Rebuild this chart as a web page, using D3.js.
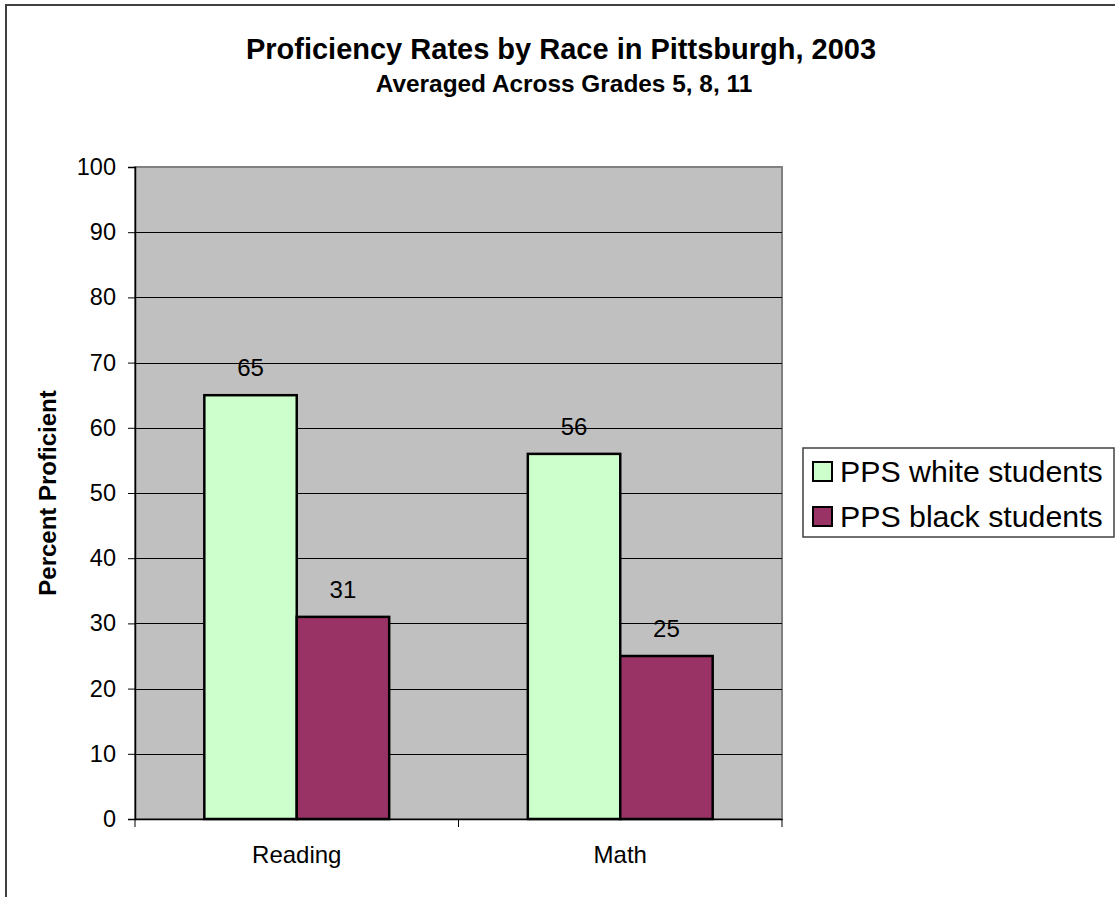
<!DOCTYPE html>
<html lang="en">
  <head>
    <meta charset="utf-8" />
    <title>Proficiency Rates by Race</title>
    <script type="text/javascript" src="https://d3js.org/d3.v7.min.js"></script>
    <style>
      body { margin: 0; background: #fff; }
      text { font-family: Arial, "Liberation Sans", sans-serif; fill: #000; }
    </style>
  </head>
  <body>
    <div id="chart"></div>
    <script type="text/javascript">
      /********************************
       * data
       ********************************/
      const categories = ["Reading", "Math"];
      const seriesNames = ["PPS white students", "PPS black students"];
      const whiteValues = [65, 56];
      const blackValues = [31, 25];
      const yTicks = [0, 10, 20, 30, 40, 50, 60, 70, 80, 90, 100];
      const colors = ["#CCFFCC", "#993366"];

      const width = 1115;
      const height = 897;

      const svg = d3
        .select("#chart")
        .append("svg")
        .attr("width", width)
        .attr("height", height);

      // outer chart border (cropped on right and bottom)
      svg.append("path")
        .attr("d", `M6,${height} V5 H${width}`)
        .attr("fill", "none")
        .attr("stroke", "#404040")
        .attr("stroke-width", 2);

      /***************************
       * scales
       **************************/
      const plot = { left: 135, right: 782, top: 167, bottom: 819 };

      const x = d3.scaleBand().domain(categories).range([plot.left, plot.right]);
      const y = d3.scaleLinear().domain([0, 100]).range([plot.bottom, plot.top]);
      // gap width 150% -> two bars + 1.5 bar widths per category
      const barW = x.bandwidth() / 3.5;
      const sub = d3.scaleBand().domain([0, 1]).range([0.75 * barW, 2.75 * barW]);

      // plot background
      svg.append("rect")
        .attr("x", plot.left)
        .attr("y", plot.top)
        .attr("width", plot.right - plot.left)
        .attr("height", plot.bottom - plot.top)
        .attr("fill", "#C0C0C0")
        .attr("stroke", "#808080")
        .attr("stroke-width", 2);

      // gridlines
      svg.append("g")
        .selectAll("line")
        .data(yTicks.filter((t) => t > 0 && t < 100))
        .enter()
        .append("line")
        .attr("x1", plot.left)
        .attr("x2", plot.right)
        .attr("y1", (d) => Math.round(y(d)) + 0.5)
        .attr("y2", (d) => Math.round(y(d)) + 0.5)
        .attr("stroke", "#000")
        .attr("stroke-width", 1);

      /*******************
       * bars
       *******************/
      const rows = categories.map((c, i) => ({ cat: c, vals: [whiteValues[i], blackValues[i]] }));

      const groups = svg.append("g")
        .selectAll("g")
        .data(rows)
        .enter()
        .append("g")
        .attr("transform", (d) => `translate(${x(d.cat)},0)`);

      groups.selectAll("rect")
        .data((d) => d.vals)
        .enter()
        .append("rect")
        .attr("x", (d, i) => sub(i))
        .attr("y", (d) => y(d))
        .attr("width", sub.bandwidth())
        .attr("height", (d) => y(0) - y(d))
        .attr("fill", (d, i) => colors[i])
        .attr("stroke", "#000")
        .attr("stroke-width", 2.5);

      groups.selectAll("text")
        .data((d) => d.vals)
        .enter()
        .append("text")
        .attr("x", (d, i) => sub(i) + sub.bandwidth() / 2)
        .attr("y", (d) => y(d) - 19)
        .attr("text-anchor", "middle")
        .style("font-size", "24px")
        .text((d) => d);

      /*******************
       * axes
       *******************/
      const yAxis = d3.axisLeft(y).tickValues(yTicks).tickSize(7).tickPadding(12);
      const gy = svg.append("g")
        .attr("transform", `translate(${plot.left},0)`)
        .call(yAxis);
      gy.select(".domain").attr("stroke", "#000").attr("stroke-width", 1.5);
      gy.selectAll(".tick line").attr("stroke", "#000");
      gy.selectAll(".tick text")
        .style("font-size", "23.5px")
        .style("font-family", "Arial, 'Liberation Sans', sans-serif")
        .attr("fill", "#000");

      const xAxis = d3.axisBottom(x).tickSize(0).tickPadding(27);
      const gx = svg.append("g")
        .attr("transform", `translate(0,${plot.bottom})`)
        .call(xAxis);
      gx.select(".domain").attr("stroke", "#000").attr("stroke-width", 1.5);
      gx.selectAll(".tick text")
        .style("font-size", "24px")
        .style("font-family", "Arial, 'Liberation Sans', sans-serif")
        .attr("fill", "#000");
      // category boundary ticks
      gx.selectAll(".bound")
        .data([plot.left, x("Math"), plot.right])
        .enter()
        .append("line")
        .attr("x1", (d) => d)
        .attr("x2", (d) => d)
        .attr("y1", 0)
        .attr("y2", 8)
        .attr("stroke", "#000");

      /*******************
       * titles
       *******************/
      svg.append("text")
        .attr("x", 561)
        .attr("y", 59)
        .attr("text-anchor", "middle")
        .style("font-size", "29px")
        .style("font-weight", "bold")
        .text("Proficiency Rates by Race in Pittsburgh, 2003");

      svg.append("text")
        .attr("x", 564)
        .attr("y", 92)
        .attr("text-anchor", "middle")
        .style("font-size", "24.4px")
        .style("font-weight", "bold")
        .text("Averaged Across Grades 5, 8, 11");

      svg.append("text")
        .attr("transform", `translate(56,${(plot.top + plot.bottom) / 2}) rotate(-90)`)
        .attr("text-anchor", "middle")
        .style("font-size", "24px")
        .style("font-weight", "bold")
        .text("Percent Proficient");

      /*******************
       * legend
       *******************/
      const legend = svg.append("g");
      legend.append("rect")
        .attr("x", 803)
        .attr("y", 448)
        .attr("width", 311)
        .attr("height", 89)
        .attr("fill", "#fff")
        .attr("stroke", "#404040")
        .attr("stroke-width", 1.5);

      const items = legend.selectAll("g.item")
        .data(seriesNames)
        .enter()
        .append("g")
        .attr("class", "item")
        .attr("transform", (d, i) => `translate(0,${i * 45})`);

      items.append("rect")
        .attr("x", 813)
        .attr("y", 462)
        .attr("width", 19)
        .attr("height", 19)
        .attr("fill", (d, i) => colors[i])
        .attr("stroke", "#000")
        .attr("stroke-width", 2);

      items.append("text")
        .attr("x", 840)
        .attr("y", 482)
        .style("font-size", "30.3px")
        .text((d) => d);
    </script>
  </body>
</html>
